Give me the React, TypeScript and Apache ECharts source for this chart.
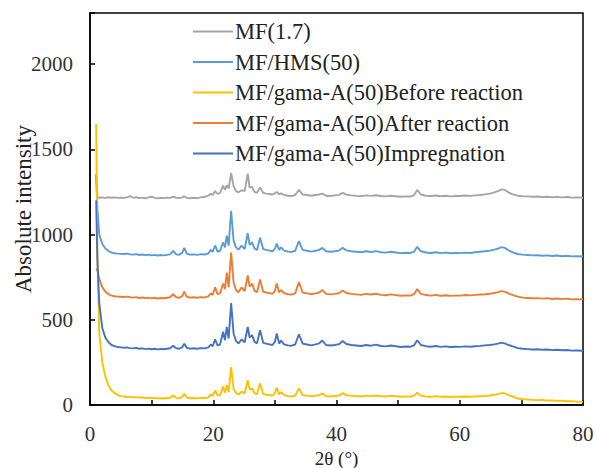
import React, { useEffect, useRef } from "react";
import * as echarts from "echarts";

// 2θ positions (degrees), shared by all patterns
const twoTheta: number[] = [
  // low angle
  1.0, 1.2, 1.5, 2.0, 2.5, 3.0, 3.5, 4.0, 4.5, 5.0,
  // 5.5 - 19.2
  5.5, 6.0, 6.5, 7.0, 7.5, 8.0, 8.5, 9.0, 9.5, 10.0, 10.5, 11.0, 11.5, 12.0, 12.5, 13.0, 13.5, 14.0, 14.5, 15.0, 15.3, 15.7, 16.2, 16.8, 17.4, 18.0, 18.6, 19.2,
  // 19.6 - 34.5
  19.6, 19.9, 20.3, 20.7, 21.1, 21.6, 21.9, 22.2, 22.5, 22.9, 23.3, 23.7, 24.1, 24.6, 25.1, 25.6, 25.9, 26.3, 26.7, 27.1, 27.6, 28.1, 28.6, 29.1, 29.6, 30.0, 30.3, 30.7, 31.0, 31.5, 32.1, 32.7, 33.3, 33.9, 34.5,
  // 35.2 - 59.3
  35.2, 35.9, 36.6, 37.2, 37.7, 38.3, 39.0, 39.7, 40.4, 41.0, 41.6, 42.4, 43.2, 44.0, 44.8, 45.6, 46.4, 47.2, 48.0, 48.8, 49.6, 50.4, 51.2, 52.0, 52.6, 53.1, 53.7, 54.5, 55.3, 56.1, 56.9, 57.7, 58.5, 59.3,
  // 60.1 - 80
  60.1, 60.9, 61.7, 62.5, 63.3, 64.1, 64.9, 65.6, 66.2, 66.8, 67.3, 67.9, 68.6, 69.4, 70.2, 71.0, 71.8, 72.6, 73.4, 74.2, 75.0, 75.8, 76.6, 77.4, 78.2, 79.0, 80.0,
];

const mf17: number[] = [
  1355, 1220, 1216, 1218, 1215, 1219, 1216, 1218, 1215, 1217,
  1215, 1218, 1225, 1216, 1219, 1214, 1217, 1213, 1218, 1222, 1215, 1213, 1216, 1214, 1217, 1215, 1222, 1216, 1214, 1218, 1225, 1215, 1213, 1216, 1214, 1218, 1222, 1228,
  1240, 1232, 1255, 1238, 1245, 1287, 1262, 1290, 1270, 1361, 1285, 1255, 1248, 1260, 1255, 1357, 1275, 1280, 1250, 1245, 1277, 1245, 1240, 1238, 1235, 1242, 1250, 1236, 1242, 1232, 1228, 1226, 1232, 1262, 1235,
  1232, 1228, 1232, 1235, 1240, 1228, 1226, 1230, 1233, 1245, 1234, 1230, 1227, 1225, 1230, 1227, 1231, 1226, 1224, 1228, 1225, 1222, 1224, 1223, 1232, 1262, 1235, 1228, 1226, 1229, 1225, 1228, 1224, 1226,
  1226, 1229, 1227, 1230, 1232, 1236, 1240, 1248, 1255, 1265, 1262, 1248, 1236, 1228, 1225, 1224, 1222, 1223, 1220, 1222, 1219, 1221, 1218, 1220, 1217, 1218, 1216,
];

const mfHms50: number[] = [
  1350, 1150, 1000, 945, 918, 903, 895, 890, 888, 887,
  886, 888, 884, 882, 885, 880, 883, 879, 882, 878, 881, 877, 880, 878, 881, 884, 905, 884, 881, 895, 922, 888, 882, 884, 881, 885, 883, 889,
  910, 898, 936, 900, 905, 955, 925, 994, 935, 1140, 965, 925, 912, 935, 915, 1008, 940, 955, 918, 910, 982, 915, 910, 906, 902, 918, 947, 910, 925, 906, 900, 898, 905, 961, 910,
  905, 900, 905, 910, 922, 902, 899, 902, 906, 922, 907, 902, 899, 896, 902, 898, 903, 896, 894, 899, 895, 891, 893, 892, 900, 928, 902, 895, 892, 896, 891, 894, 890, 892,
  891, 894, 892, 896, 899, 902, 906, 912, 918, 926, 922, 908, 896, 886, 882, 880, 878, 879, 876, 878, 874, 877, 873, 876, 872, 873, 871,
];

const gamaBefore: number[] = [
  1650, 900, 420, 250, 165, 115, 85, 70, 58, 52,
  50, 47, 49, 45, 46, 43, 44, 41, 43, 40, 42, 39, 40, 38, 41, 42, 55, 42, 40, 48, 66, 44, 40, 41, 39, 42, 41, 45,
  62, 52, 85, 55, 58, 108, 72, 118, 75, 222, 95, 70, 62, 78, 68, 146, 90, 98, 70, 62, 127, 65, 60, 58, 55, 70, 102, 62, 75, 58, 52, 50, 55, 98, 58,
  55, 52, 54, 58, 68, 52, 50, 53, 55, 70, 58, 54, 52, 50, 55, 52, 56, 51, 50, 54, 51, 48, 50, 49, 55, 72, 55, 50, 48, 52, 48, 50, 47, 49,
  48, 50, 48, 50, 52, 53, 56, 60, 64, 70, 68, 58, 50, 38, 34, 32, 30, 28, 30, 26, 27, 24, 25, 22, 23, 20, 20,
];

const gamaAfter: number[] = [
  800, 790, 740, 690, 665, 650, 642, 638, 636, 635,
  634, 636, 632, 630, 633, 628, 631, 627, 630, 626, 629, 625, 628, 626, 629, 632, 650, 632, 629, 640, 665, 636, 630, 632, 629, 633, 631, 637,
  655, 645, 690, 650, 655, 713, 680, 777, 690, 895, 720, 675, 662, 690, 668, 760, 695, 712, 670, 662, 737, 665, 660, 656, 652, 668, 713, 660, 675, 656, 650, 648, 655, 721, 660,
  655, 650, 655, 660, 675, 652, 649, 652, 656, 672, 657, 652, 649, 646, 652, 648, 653, 646, 644, 649, 645, 641, 643, 642, 650, 680, 652, 645, 642, 646, 641, 644, 640, 642,
  642, 645, 643, 646, 648, 650, 653, 657, 662, 668, 665, 655, 645, 636, 630, 628, 626, 627, 624, 627, 622, 625, 621, 624, 620, 621, 620,
];

const gamaImpregnation: number[] = [
  1200, 850, 600, 450, 395, 368, 352, 345, 340, 338,
  336, 338, 334, 332, 335, 330, 332, 328, 331, 327, 330, 326, 329, 327, 330, 333, 348, 333, 330, 340, 360, 336, 331, 333, 330, 334, 332, 338,
  355, 345, 385, 350, 355, 430, 380, 458, 390, 598, 420, 375, 362, 385, 368, 458, 395, 410, 370, 362, 439, 365, 360, 356, 352, 370, 419, 360, 378, 356, 350, 348, 355, 415, 360,
  355, 350, 356, 362, 378, 352, 349, 352, 357, 375, 358, 352, 349, 346, 352, 348, 354, 346, 344, 349, 345, 340, 343, 342, 350, 380, 352, 345, 342, 346, 341, 344, 340, 342,
  341, 344, 342, 345, 347, 350, 352, 356, 360, 366, 362, 352, 344, 334, 330, 328, 326, 327, 324, 326, 322, 324, 321, 323, 319, 320, 318,
];

const seriesNames: string[] = [
  "MF(1.7)",
  "MF/HMS(50)",
  "MF/gama-A(50)Before reaction",
  "MF/gama-A(50)After reaction",
  "MF/gama-A(50)Impregnation",
];
const seriesColors: string[] = ["#a5a5a5", "#5b9bd5", "#ffc000", "#ed7d31", "#4472c4"];
const seriesValues: number[][] = [mf17, mfHms50, gamaBefore, gamaAfter, gamaImpregnation];

const xTickLabels: number[] = [0, 20, 40, 60, 80];
const yTickLabels: number[] = [0, 500, 1000, 1500, 2000];

const FONT = "Times New Roman, Liberation Serif, Tinos, DejaVu Serif, serif";

export default function App() {
  const ref = useRef<HTMLDivElement>(null);

  useEffect(() => {
    document.body.style.margin = "0";
    if (!ref.current) return;
    const chart = echarts.init(ref.current, undefined, { renderer: "svg" });

    const series = seriesNames.map((name, i) => ({
      name,
      type: "line",
      data: twoTheta.map((x, j) => [x, seriesValues[i][j]]),
      showSymbol: false,
      symbol: "none",
      lineStyle: { color: seriesColors[i], width: 1.9 },
      itemStyle: { color: seriesColors[i] },
      z: 2,
    }));

    chart.setOption({
      animation: false,
      backgroundColor: "#ffffff",
      textStyle: { fontFamily: FONT },
      grid: {
        left: 90,
        right: 12,
        top: 13,
        bottom: 63,
        outerBoundsMode: "none",
        containLabel: false,
        show: true,
        borderColor: "#000",
        borderWidth: 1.5,
        backgroundColor: "transparent",
      },
      legend: {
        orient: "vertical",
        left: 188,
        top: 15,
        icon: "rect",
        itemWidth: 40,
        itemHeight: 2,
        itemGap: 7.5,
        data: seriesNames,
        textStyle: { fontFamily: FONT, fontSize: 22.5, lineHeight: 22, color: "#222", padding: [0, 0, 0, -3] },
      },
      xAxis: {
        type: "value",
        min: 0,
        max: 80,
        interval: 10,
        name: "2θ (°)",
        nameLocation: "middle",
        nameGap: 32,
        nameTextStyle: { fontFamily: FONT, fontSize: 19, color: "#222" },
        axisLine: { show: true, lineStyle: { color: "#000", width: 1.5 } },
        axisTick: { show: true, inside: true, length: 5, lineStyle: { color: "#000", width: 1.5 } },
        axisLabel: {
          fontFamily: FONT,
          fontSize: 21,
          color: "#333",
          margin: 18,
          formatter: (v: number) => (xTickLabels.includes(v) ? String(v) : ""),
        },
        splitLine: { show: false },
      },
      yAxis: {
        type: "value",
        min: 0,
        max: 2300,
        interval: 500,
        name: "Absolute intensity",
        nameLocation: "middle",
        nameGap: 55,
        nameMoveOverlap: false,
        nameTextStyle: { fontFamily: FONT, fontSize: 23, color: "#222" },
        axisLine: { show: true, lineStyle: { color: "#000", width: 1.5 } },
        axisTick: { show: true, inside: true, length: 5, lineStyle: { color: "#000", width: 1.5 } },
        axisLabel: {
          fontFamily: FONT,
          fontSize: 21,
          color: "#333",
          margin: 17,
          formatter: (v: number) => (yTickLabels.includes(v) ? String(v) : ""),
        },
        splitLine: { show: false },
      },
      series,
    });

    return () => chart.dispose();
  }, []);

  return <div ref={ref} style={{ width: 595, height: 468 }} />;
}
